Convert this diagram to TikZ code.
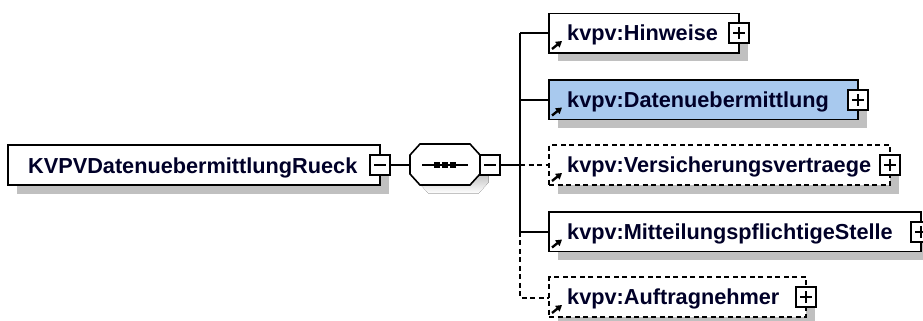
\documentclass[tikz,border=0pt]{standalone}
\usepackage{fontspec}
\setmainfont{Liberation Sans}
\usetikzlibrary{arrows.meta,shadows,calc}
\definecolor{shade}{RGB}{192,192,192}
\definecolor{selfill}{RGB}{168,201,238}
\definecolor{txt}{RGB}{0,0,40}
\begin{document}
\begin{tikzpicture}[x=1pt,y=-1pt,
  elem/.style={draw=black, line width=1.6pt, fill=white, inner sep=0pt, outer sep=0pt,
    minimum height=39.5pt, anchor=north west,
    drop shadow={shadow xshift=8.5pt, shadow yshift=-8.5pt, fill=shade, opacity=1}},
  opt/.style={elem, dash pattern=on 5pt off 3.5pt},
  sel/.style={elem, fill=selfill},
  lbl/.style={anchor=base west, inner sep=0pt, text=txt, font=\fontsize{21.7}{24}\selectfont\bfseries},
  pmbox/.style={draw=black, line width=1.5pt, fill=white, minimum width=20pt, minimum height=20pt, inner sep=0pt, solid},
  pmplus/.style={pmbox, path picture={\draw[line width=1.5pt]
     ([xshift=-6pt]path picture bounding box.center) -- ([xshift=6pt]path picture bounding box.center)
     ([yshift=-6pt]path picture bounding box.center) -- ([yshift=6pt]path picture bounding box.center);}},
  pmminus/.style={pmbox, path picture={\draw[line width=1.5pt]
     ([xshift=-6pt]path picture bounding box.center) -- ([xshift=6pt]path picture bounding box.center);}},
  conn/.style={draw=black, line width=1.6pt},
  optconn/.style={conn, dash pattern=on 5pt off 3.5pt},
  refarrow/.style={line width=2.4pt, -{Triangle[length=6pt,width=7pt]}}
]
\useasboundingbox (0,0) rectangle (923,321);
\fill[white] (0,0) rectangle (923,321);

% root element
\node[elem, minimum width=372pt, minimum height=40pt] (root) at (8,145) {};
\node[lbl] (roott) at (28,173) {KVPVDatenuebermittlungRueck};
\node[pmminus] (rootm) at (root.east) {};

% sequence compositor
\node[inner sep=0pt, outer sep=0pt, minimum width=70pt, minimum height=41pt] (seq) at (445,165) {};
\fill[shade] (428.5,152.5) -- (478.5,152.5) -- (488.5,163.5) -- (488.5,182.5) -- (478.5,193.5)
  -- (428.5,193.5) -- (418.5,182.5) -- (418.5,163.5) -- cycle;
\draw[line width=1.6pt, fill=white] (420,144) -- (470,144) -- (480,155) -- (480,174) -- (470,185)
  -- (420,185) -- (410,174) -- (410,155) -- cycle;
\draw[line width=1.5pt] (422,165) -- (468,165);
\fill (434,162) rectangle (440,168);
\fill (442,162) rectangle (448,168);
\fill (450,162) rectangle (456,168);

% child elements
\node[elem, minimum width=190pt] (h1) at (549,13.5) {};
\node[lbl] (h1t) at (567,40.5) {kvpv:Hinweise};
\node[pmplus] (h1p) at (h1.east) {};

\node[sel, minimum width=309pt] (h2) at (549,80) {};
\node[lbl] (h2t) at (567,107) {kvpv:Datenuebermittlung};
\node[pmplus] (h2p) at (h2.east) {};

\node[opt, minimum width=341pt, minimum height=40pt] (h3) at (549,145) {};
\node[lbl] (h3t) at (567,172.5) {kvpv:Versicherungsvertraege};
\node[pmplus] (h3p) at (h3.east) {};

\node[elem, minimum width=372pt] (h4) at (549,212) {};
\node[lbl] (h4t) at (567,239) {kvpv:MitteilungspflichtigeStelle};
\node[pmplus] (h4p) at (h4.east) {};

\node[opt, minimum width=257pt, minimum height=40pt] (h5) at (549,277) {};
\node[lbl] (h5t) at (567,304.5) {kvpv:Auftragnehmer};
\node[pmplus] (h5p) at (h5.east) {};

% reference arrows
\foreach \n in {h1,h2,h3,h4,h5}
  \draw[refarrow] ($(\n.south west)+(3,-4)$) -- ++(10,-8);

% connectors
\coordinate (tr) at (520,165);
\coordinate (t1) at (520,33.25);
\coordinate (t4) at (520,231.75);
\coordinate (t5) at (520,298);
\draw[conn] (rootm.east) -- (seq.west);
\draw[conn] (t1) -- (t4);
\draw[conn] (t1) -- (h1.west);
\draw[conn] (h2.west -| tr) -- (h2.west);
\draw[optconn] (tr) -- (h3.west);
\draw[conn] (t4) -- (h4.west);
\draw[optconn] (t4) -- (t5) -- (h5.west |- t5);
\node[pmminus] (seqm) at (490,165) {};
\draw[conn] (seqm.east) -- (tr);
\end{tikzpicture}
\end{document}
